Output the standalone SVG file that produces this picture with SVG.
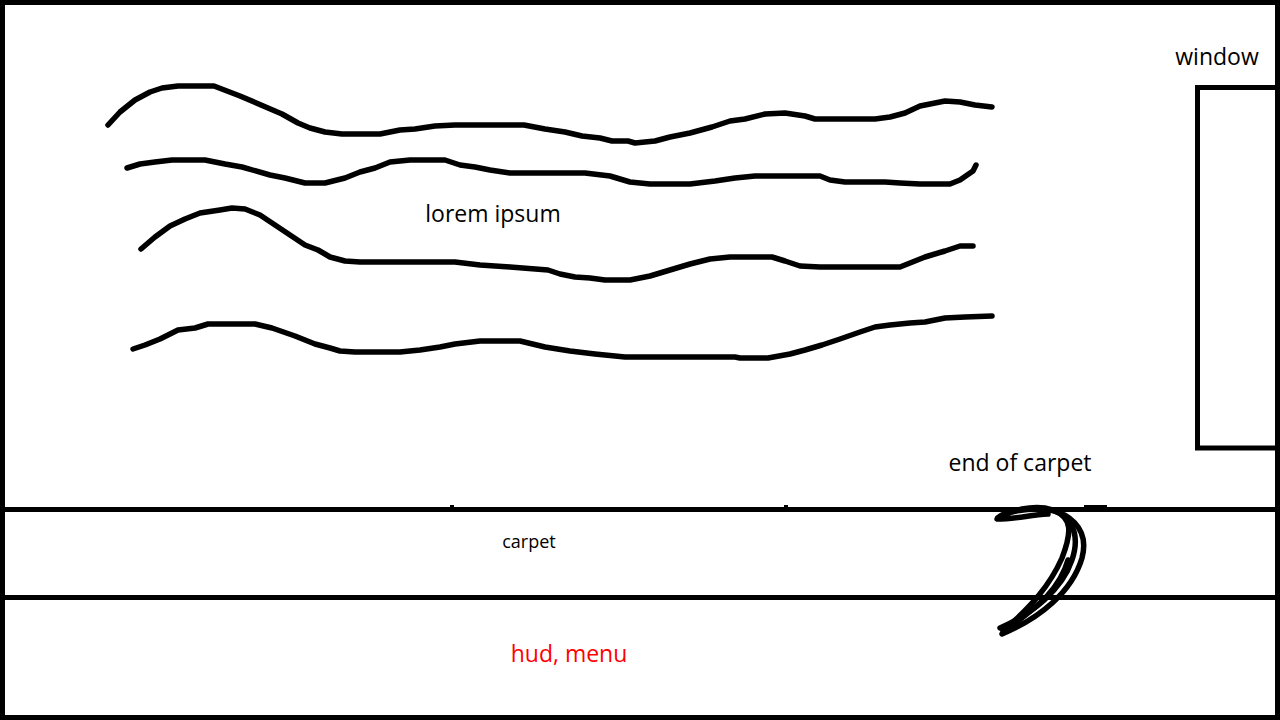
<svg xmlns="http://www.w3.org/2000/svg" width="1280" height="720" viewBox="0 0 1280 720">
<style>
.s{fill:none;stroke:#000;stroke-width:5.5;stroke-linecap:round;stroke-linejoin:round}
.b{fill:none;stroke:#000;stroke-width:5}
.t{font-family:"Open Sans","Noto Sans",sans-serif;font-size:23px;fill:#000;text-anchor:middle}
</style>
<rect width="1280" height="720" fill="#fff"/>
<rect class="b" x="2.5" y="2.5" width="1275" height="715"/>
<g id="waves">
<polyline class="s" points="108,125 120,112 135,100 150,92 162,88 178,86 214,86 240,96 268,108 282,114 298,123 310,128 325,132 342,134 380,134 400,130 415,129 435,126 455,125 524,125 545,129 565,132 582,136 600,138 612,141 628,141 635,143 655,141 670,137 690,133 712,127 730,121 745,119 765,114 785,113 805,116 815,119 875,119 890,117 905,113 920,106 945,101 960,102 975,105 992,107"/>
<polyline class="s" points="127,168 140,164 155,162 172,160 205,160 225,164 242,167 270,175 285,178 305,183 325,183 345,178 360,172 375,168 390,162 410,160 445,160 460,165 475,167 490,170 510,173 585,173 610,176 630,182 650,184 690,184 715,181 735,178 755,176 820,176 830,180 845,182 885,182 900,183 920,184 950,184 960,180 973,171 976,165"/>
<polyline class="s" points="141,249 155,237 170,226 185,219 200,213 220,210 232,208 245,209 260,215 275,225 290,235 305,245 318,250 330,257 345,261 360,262 455,262 480,265 510,267 548,270 560,274 575,277 590,278 605,280 630,280 650,276 670,270 690,264 710,259 730,257 772,257 785,261 800,266 820,267 900,267 910,263 925,257 945,251 960,246 973,246"/>
<polyline class="s" points="133,349 145,345 160,339 178,330 195,328 208,324 255,324 272,328 295,336 315,344 330,348 340,351 355,352 400,352 420,350 440,347 455,344 480,341 520,341 545,347 570,351 595,354 625,357 735,357 740,358 768,358 790,354 805,350 822,345 840,339 860,332 875,327 890,325 910,323 925,322 945,318 965,317 992,316"/>
<text class="t" x="493" y="222">lorem ipsum</text>
</g>
<g id="window">
<rect class="b" x="1197.5" y="87.5" width="90" height="360.5"/>
<text class="t" x="1217" y="65">window</text>
</g>
<g id="carpet">
<line class="b" x1="0" y1="509.5" x2="1280" y2="509.5"/>
<line class="b" x1="0" y1="597.5" x2="1280" y2="597.5"/>
<rect x="450" y="505" width="4" height="3" fill="#000"/>
<rect x="784" y="505" width="4" height="3" fill="#000"/>
<rect x="1084" y="505" width="23" height="3" fill="#000"/>
<text class="t" x="529" y="548" style="font-size:18px">carpet</text>
</g>
<g id="curl">
<path class="s" d="M1002,634 C1040,618 1072,592 1082,558 C1090,528 1068,510 1040,509 C1018,509 998,514 997,519 C1015,519 1030,515 1048,514"/>
<path class="s" d="M1000,628 C1032,614 1062,590 1072,560 C1082,530 1068,512 1045,508 C1030,506 1012,510 1005,516"/>
<path class="s" d="M1003,631 C1032,606 1050,585 1062,558 C1072,532 1072,518 1055,511"/>
<path class="s" d="M1010,627 C1040,605 1060,588 1068,560"/>
<text class="t" x="1020" y="471">end of carpet</text>
</g>
<g id="hud">
<text class="t" x="569" y="662" style="fill:#ff0000">hud, menu</text>
</g>
</svg>
